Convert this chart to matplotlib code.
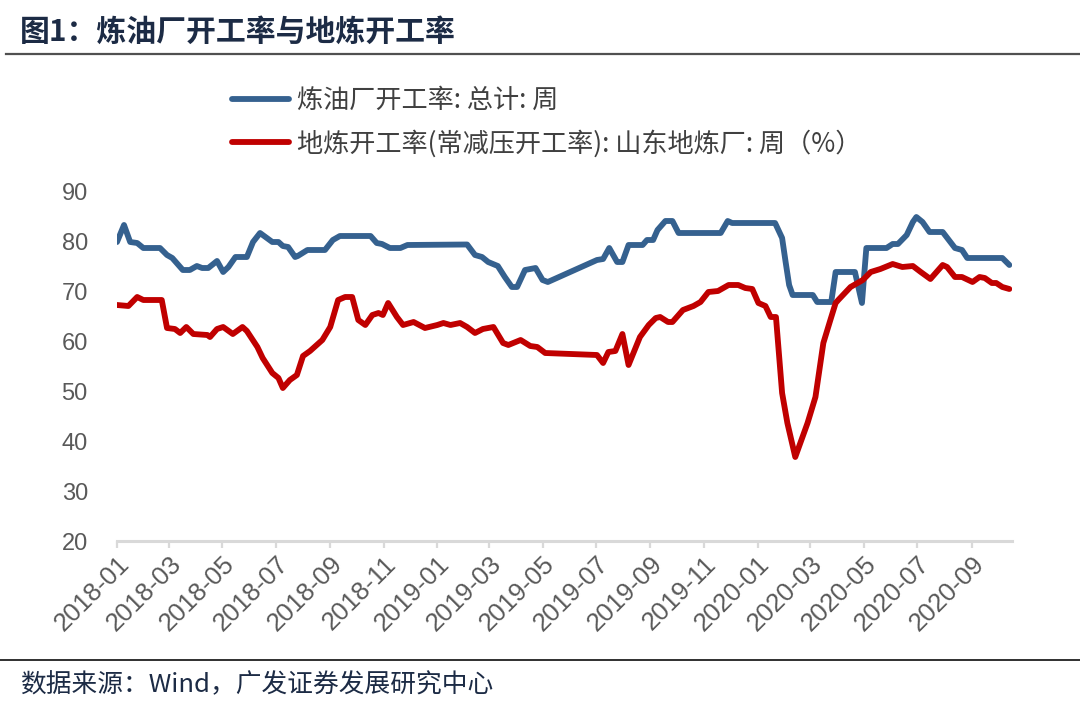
import matplotlib
matplotlib.use("Agg")
import matplotlib.pyplot as plt
import matplotlib.dates as mdates
from matplotlib.lines import Line2D
import pandas as pd

# ---------------- data ----------------
title_text = "图1：炼油厂开工率与地炼开工率"
source_text = "数据来源：Wind，广发证券发展研究中心"
label_blue = "炼油厂开工率: 总计: 周"
label_red = "地炼开工率(常减压开工率): 山东地炼厂: 周（%）"

blue_dates = ["2018-01-01", "2018-01-09", "2018-01-16", "2018-01-24", "2018-01-31", "2018-02-19",
              "2018-02-27", "2018-03-05", "2018-03-14", "2018-03-17", "2018-03-25", "2018-04-02",
              "2018-04-08", "2018-04-15", "2018-04-25", "2018-05-02", "2018-05-08", "2018-05-16",
              "2018-05-29", "2018-06-05", "2018-06-13", "2018-06-27", "2018-07-04", "2018-07-09",
              "2018-07-15", "2018-07-23", "2018-07-26", "2018-08-06", "2018-08-26", "2018-09-04",
              "2018-09-12", "2018-10-17", "2018-10-24", "2018-10-30", "2018-11-08", "2018-11-20",
              "2018-11-28", "2019-02-04", "2019-02-13", "2019-02-21", "2019-02-28", "2019-03-11",
              "2019-03-19", "2019-03-27", "2019-04-02", "2019-04-11", "2019-04-23", "2019-05-01",
              "2019-05-07", "2019-07-02", "2019-07-09", "2019-07-16", "2019-07-25", "2019-07-31",
              "2019-08-07", "2019-08-23", "2019-08-28", "2019-09-04", "2019-09-09", "2019-09-18",
              "2019-09-26", "2019-10-03", "2019-11-20", "2019-11-28", "2019-12-03", "2020-01-21",
              "2020-01-29", "2020-02-02", "2020-02-06", "2020-02-10", "2020-03-04", "2020-03-09",
              "2020-03-25", "2020-03-30", "2020-04-21", "2020-04-29", "2020-05-04", "2020-05-27",
              "2020-06-03", "2020-06-09", "2020-06-19", "2020-06-26", "2020-06-30", "2020-07-07",
              "2020-07-15", "2020-07-30", "2020-08-13", "2020-08-21", "2020-08-27", "2020-10-06",
              "2020-10-14"]
blue_values = [79.8, 83.2, 79.8, 79.6, 78.6, 78.6,
               77.2, 76.6, 74.8, 74.2, 74.2, 75.0,
               74.6, 74.6, 76.0, 73.8, 74.8, 76.8,
               76.8, 79.8, 81.6, 79.8, 79.8, 79.0,
               78.8, 76.8, 77.0, 78.2, 78.2, 80.2,
               81.0, 81.0, 79.6, 79.4, 78.6, 78.6,
               79.2, 79.3, 77.2, 76.8, 75.8, 75.0,
               72.8, 70.8, 70.8, 74.2, 74.6, 72.2,
               71.8, 76.2, 76.4, 78.6, 75.8, 75.8,
               79.2, 79.2, 80.2, 80.2, 82.2, 84.0,
               84.0, 81.6, 81.6, 84.0, 83.6, 83.6,
               80.6, 75.8, 71.2, 69.2, 69.2, 67.8,
               67.8, 73.8, 73.8, 67.6, 78.6, 78.6,
               79.4, 79.4, 81.2, 83.8, 84.8, 83.8,
               81.8, 81.8, 78.6, 78.2, 76.6, 76.6,
               75.2]

red_dates = ["2018-01-01", "2018-01-14", "2018-01-24", "2018-01-31", "2018-02-21", "2018-02-27",
             "2018-03-08", "2018-03-14", "2018-03-21", "2018-03-29", "2018-04-14", "2018-04-17",
             "2018-04-25", "2018-05-02", "2018-05-13", "2018-05-24", "2018-05-29", "2018-06-10",
             "2018-06-16", "2018-06-27", "2018-07-04", "2018-07-09", "2018-07-17", "2018-07-25",
             "2018-08-01", "2018-08-09", "2018-08-23", "2018-09-01", "2018-09-10", "2018-09-18",
             "2018-09-26", "2018-10-03", "2018-10-11", "2018-10-19", "2018-10-26", "2018-10-31",
             "2018-11-06", "2018-11-16", "2018-11-23", "2018-12-05", "2018-12-18", "2019-01-01",
             "2019-01-08", "2019-01-16", "2019-01-27", "2019-02-04", "2019-02-13", "2019-02-22",
             "2019-03-06", "2019-03-17", "2019-03-23", "2019-04-06", "2019-04-17", "2019-04-25",
             "2019-05-04", "2019-07-02", "2019-07-09", "2019-07-15", "2019-07-23", "2019-07-31",
             "2019-08-07", "2019-08-20", "2019-08-30", "2019-09-07", "2019-09-12", "2019-09-21",
             "2019-09-26", "2019-10-08", "2019-10-20", "2019-10-28", "2019-11-06", "2019-11-17",
             "2019-11-29", "2019-12-10", "2019-12-18", "2019-12-26", "2020-01-02", "2020-01-10",
             "2020-01-16", "2020-01-22", "2020-01-29", "2020-02-04", "2020-02-13", "2020-02-27",
             "2020-03-07", "2020-03-16", "2020-03-24", "2020-03-30", "2020-04-02", "2020-04-16",
             "2020-04-30", "2020-05-09", "2020-05-20", "2020-06-03", "2020-06-14", "2020-06-26",
             "2020-07-05", "2020-07-16", "2020-07-30", "2020-08-04", "2020-08-13", "2020-08-21",
             "2020-09-02", "2020-09-10", "2020-09-16", "2020-09-24", "2020-09-29", "2020-10-06",
             "2020-10-14"]
red_values = [67.2, 67.0, 68.8, 68.2, 68.2, 62.6,
              62.4, 61.6, 62.8, 61.4, 61.2, 60.8,
              62.4, 62.8, 61.4, 62.8, 62.0, 58.8,
              56.6, 53.6, 52.6, 50.6, 52.2, 53.2,
              57.0, 58.0, 60.2, 62.8, 68.2, 68.8,
              68.8, 64.2, 63.2, 65.2, 65.6, 65.2,
              67.6, 64.8, 63.2, 63.8, 62.6, 63.2,
              63.6, 63.2, 63.6, 62.8, 61.6, 62.4,
              62.8, 59.6, 59.2, 60.2, 59.0, 58.8,
              57.6, 57.2, 55.6, 57.8, 58.0, 61.4,
              55.2, 60.8, 63.2, 64.6, 64.8, 63.8,
              63.8, 66.2, 67.0, 67.8, 69.8, 70.0,
              71.2, 71.2, 70.6, 70.4, 67.6, 67.0,
              64.8, 64.8, 49.6, 43.6, 36.8, 43.6,
              48.8, 59.6, 64.2, 67.6, 68.2, 70.8,
              72.2, 73.8, 74.4, 75.4, 74.8, 75.0,
              73.8, 72.4, 75.2, 74.8, 72.8, 72.8,
              71.8, 72.8, 72.6, 71.6, 71.6, 70.8,
              70.4]

y_ticks = [20, 30, 40, 50, 60, 70, 80, 90]
x_start, x_end = "2018-01-01", "2020-10-17"

# ---------------- style ----------------
BLUE = "#35618F"
RED = "#C00000"
GRAY_TXT = "#595959"
AXIS_GRAY = "#D9D9D9"
DARK = "#1c2b45"
CJK = ["Noto Sans CJK SC", "DejaVu Sans"]

plt.rcParams["font.family"] = ["Liberation Sans", "Noto Sans CJK SC", "DejaVu Sans"]

fig = plt.figure(figsize=(10.8, 7.1), dpi=100)
fig.patch.set_facecolor("white")

W, H = 1080, 710
left, right, top, bottom = 117 / W, 1012 / W, 1 - 191 / H, 1 - 541 / H
ax = fig.add_axes([left, bottom, right - left, top - bottom])

bd = pd.to_datetime(blue_dates)
rd = pd.to_datetime(red_dates)
ax.plot(bd, blue_values, color=BLUE, lw=4.2, solid_joinstyle="round", solid_capstyle="round",
        label=label_blue, zorder=3)
ax.plot(rd, red_values, color=RED, lw=4.2, solid_joinstyle="round", solid_capstyle="round",
        label=label_red, zorder=3)

ax.set_ylim(20, 90)
ax.set_yticks(y_ticks)
ax.set_xlim(pd.Timestamp(x_start), pd.Timestamp(x_end))
ax.xaxis.set_major_locator(mdates.MonthLocator(bymonth=[1, 3, 5, 7, 9, 11]))
ax.xaxis.set_major_formatter(mdates.DateFormatter("%Y-%m"))

for s in ["top", "right", "left"]:
    ax.spines[s].set_visible(False)
ax.spines["bottom"].set_color(AXIS_GRAY)
ax.spines["bottom"].set_linewidth(2.2)
ax.spines["bottom"].set_zorder(1)

ax.tick_params(axis="x", direction="out", length=5, width=1.6, color=AXIS_GRAY,
               labelsize=18.5, labelcolor=GRAY_TXT, pad=3)
ax.tick_params(axis="y", length=0, labelsize=17, labelcolor=GRAY_TXT, pad=21)
for lab in ax.get_xticklabels():
    lab.set_rotation(45)
    lab.set_ha("right")
    lab.set_rotation_mode("anchor")

# legend
handles = [Line2D([], [], color=BLUE, lw=4.2, solid_capstyle="round"),
           Line2D([], [], color=RED, lw=4.2, solid_capstyle="round")]
leg = fig.legend(handles, [label_blue, label_red], loc="upper left",
                 bbox_to_anchor=(232 / W, 1 - 87 / H), frameon=False,
                 prop={"family": CJK, "size": 18.8}, handlelength=2.2,
                 handletextpad=0.3, labelspacing=0.6, borderpad=0, borderaxespad=0)
for t in leg.get_texts():
    t.set_color("#404040")

# title, rules, source
fig.text(20 / W, 1 - 32 / H, title_text, fontsize=21.5, fontweight="bold", color=DARK,
         family=["Noto Sans CJK SC", "DejaVu Sans"], va="center", ha="left")
fig.add_artist(Line2D([6 / W, 1.0], [1 - 54 / H, 1 - 54 / H], color="#505050", lw=1.6))
fig.add_artist(Line2D([0.0, 1.0], [1 - 660 / H, 1 - 660 / H], color="#303030", lw=1.4))
fig.text(20 / W, 1 - 685 / H, source_text, fontsize=18.5, color=DARK,
         family=CJK, va="center", ha="left")

fig.savefig("out.png", dpi=100, facecolor="white")
